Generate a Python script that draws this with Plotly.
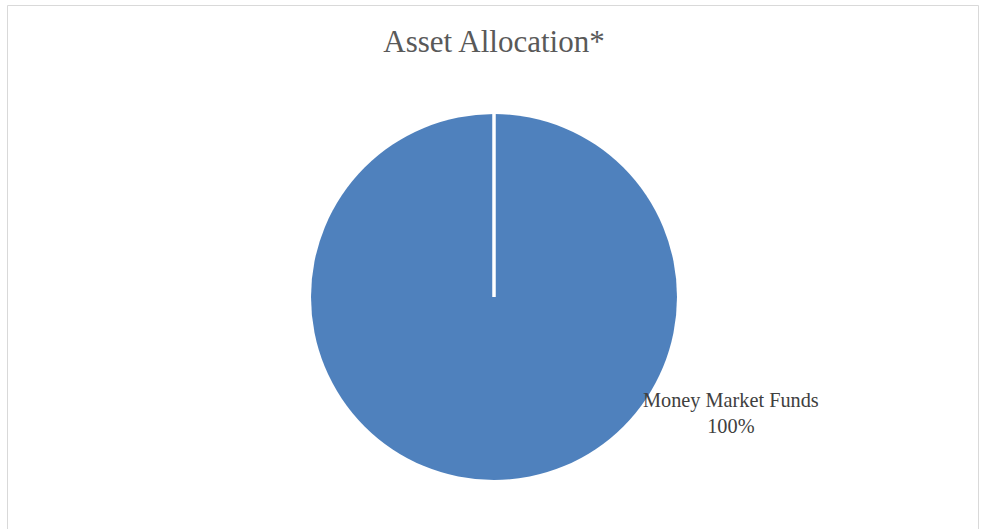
import plotly.graph_objects as go

# Data
categories = ["Money Market Funds"]
values = [100]
title_text = "Asset Allocation*"

W, H = 984, 529
# pie placement (pixels)
cx, cy, r = 494, 297, 183

fig = go.Figure()
fig.add_trace(go.Pie(
    labels=categories,
    values=values,
    sort=False,
    direction="clockwise",
    rotation=0,
    textinfo="none",
    hoverinfo="label+percent",
    marker=dict(colors=["#4F81BD"], line=dict(width=0)),
    domain=dict(x=[(cx - r) / W, (cx + r) / W], y=[1 - (cy + r) / H, 1 - (cy - r) / H]),
    showlegend=False,
))

pct = [f"{v / sum(values) * 100:.0f}%" for v in values]

fig.update_layout(
    width=W, height=H,
    margin=dict(l=0, r=0, t=0, b=0),
    paper_bgcolor="white",
    plot_bgcolor="white",
    title=dict(text=title_text, x=cx / W, xanchor="center", y=1 - 41 / H, yanchor="middle",
               font=dict(family="Liberation Serif", size=31, color="#595959")),
    annotations=[dict(
        text=f"{categories[0]}<br>{pct[0]}", x=730.5 / W, y=1 - 413 / H, xref="paper", yref="paper",
        xanchor="center", yanchor="middle",
        showarrow=False, align="center",
        font=dict(family="Liberation Serif", size=20.3, color="#404040"),
    )],
    shapes=[
        # chart border
        dict(type="rect", xref="paper", yref="paper", x0=7.5 / W, x1=978.5 / W, y0=-0.05, y1=1 - 5.5 / H,
             line=dict(color="#D9D9D9", width=1), layer="below"),
        # slice boundary
        dict(type="line", xref="paper", yref="paper", x0=cx / W, x1=cx / W, y0=1 - cy / H, y1=1 - (cy - r) / H,
             line=dict(color="white", width=3.5), layer="above"),
    ],
)

fig.write_html("out.html", config={"displayModeBar": False},
               post_script="document.body.style.margin='0';document.body.style.overflow='hidden';")
